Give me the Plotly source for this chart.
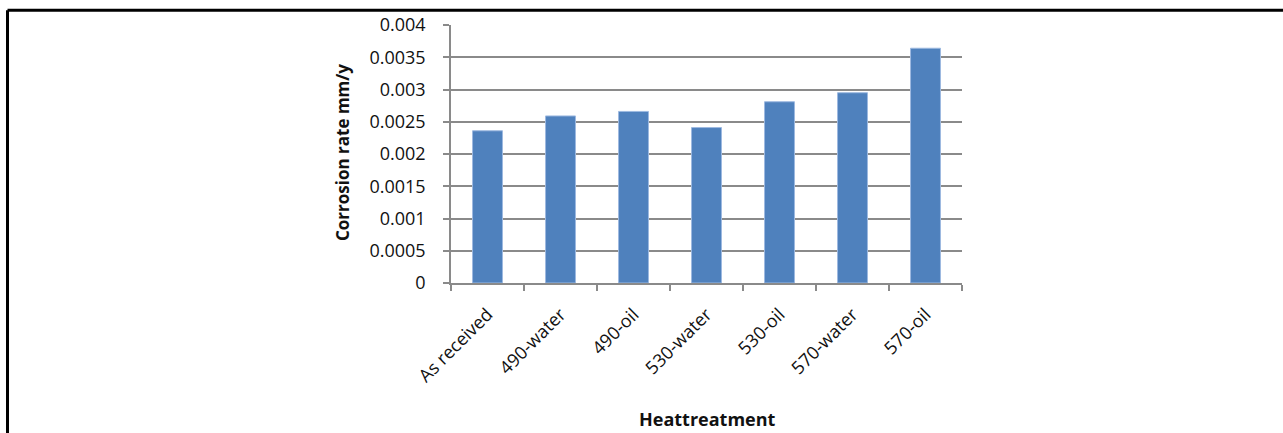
import plotly.graph_objects as go

# Corrosion rate for each heat-treatment condition
treatments = ["As received", "490-water", "490-oil", "530-water", "530-oil", "570-water", "570-oil"]
corrosion_rate = [0.00236, 0.00259, 0.00266, 0.00241, 0.00281, 0.00295, 0.00364]

y_tick_values = [0, 0.0005, 0.001, 0.0015, 0.002, 0.0025, 0.003, 0.0035, 0.004]
y_tick_labels = ["0", "0.0005", "0.001", "0.0015", "0.002", "0.0025", "0.003", "0.0035", "0.004"]

W, H = 1283, 433
L, R, T, B = 451, 962, 19, 283  # plot area in pixels
FONT = "Open Sans"
GRID = "#8a8a8a"
TEXT = "#111111"


def px_x(x):
    return (x - L) / (R - L)


def px_y(y):
    return (B - y) / (B - T)


fig = go.Figure(
    go.Bar(
        x=treatments,
        y=corrosion_rate,
        marker=dict(color="#4F81BD", line=dict(color="#9DB9E0", width=1)),
        width=0.41,
    )
)

fig.update_layout(
    width=W,
    height=H,
    margin=dict(l=L, r=W - R, t=T, b=H - B, pad=0),
    paper_bgcolor="white",
    plot_bgcolor="white",
    showlegend=False,
    font=dict(family=FONT, size=17, color=TEXT),
)

fig.update_xaxes(
    showline=True,
    linecolor=GRID,
    linewidth=1.5,
    ticks="outside",
    tickson="boundaries",
    ticklen=6,
    tickcolor=GRID,
    tickwidth=1.5,
    tickangle=-45,
    ticklabelstandoff=12,
    tickfont=dict(family=FONT, size=18, color=TEXT),
    showgrid=False,
)

fig.update_yaxes(
    range=[0, 0.004],
    tickvals=y_tick_values,
    ticktext=y_tick_labels,
    showline=True,
    linecolor=GRID,
    linewidth=1.5,
    ticks="outside",
    ticklen=6,
    tickcolor=GRID,
    tickwidth=1.5,
    ticklabelstandoff=14,
    showgrid=True,
    gridcolor=GRID,
    gridwidth=1.5,
    zeroline=False,
    tickfont=dict(family=FONT, size=18, color=TEXT),
)

# Axis titles
fig.add_annotation(
    text="<b>Corrosion rate mm/y</b>",
    xref="paper", yref="paper",
    x=px_x(342), y=px_y(150),
    xanchor="center", yanchor="middle",
    textangle=-90,
    showarrow=False,
    font=dict(family=FONT, size=17, color=TEXT),
)
fig.add_annotation(
    text="<b>Heattreatment</b>",
    xref="paper", yref="paper",
    x=px_x(707), y=px_y(422),
    xanchor="center", yanchor="middle",
    showarrow=False,
    font=dict(family=FONT, size=18, color=TEXT),
)

# Frame lines along the top and left edges
fig.add_shape(type="line", xref="paper", yref="paper",
              x0=px_x(7.5), x1=px_x(1300), y0=px_y(4), y1=px_y(4),
              line=dict(color="black", width=3))
fig.add_shape(type="line", xref="paper", yref="paper",
              x0=px_x(7.5), x1=px_x(7.5), y0=px_y(4), y1=px_y(450),
              line=dict(color="black", width=3))

fig.write_html("out.html")
